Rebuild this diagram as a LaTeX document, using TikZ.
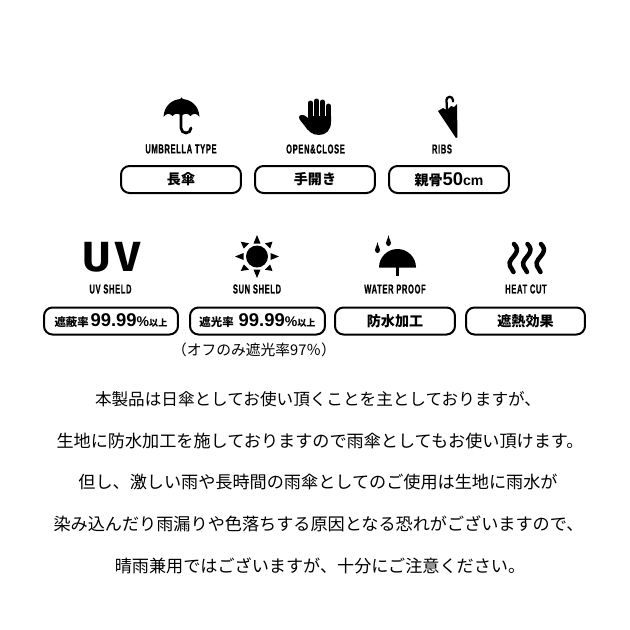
\documentclass[tikz,border=0pt]{standalone}
\usepackage{fontspec}
\setmainfont{Noto Sans CJK JP}
\newfontfamily\capfont[FakeStretch=0.58,FakeBold=0.6,LetterSpace=5]{Liberation Sans Bold}
\newfontfamily\uvfont[LetterSpace=9,FakeStretch=1.04,BoldFont={Fira Sans Bold}]{Fira Sans}
\newfontfamily\numfont{Liberation Sans Bold}
\tikzset{
	specbox/.style={draw, line width=0.4mm, rounded corners=1.7mm, minimum height=0.54cm, inner sep=0pt, font=\bfseries\fontsize{8pt}{10pt}\selectfont},
	caplabel/.style={inner sep=0pt, font=\capfont\fontsize{7.4pt}{9pt}\selectfont},
	bodyline/.style={inner sep=0pt, font=\fontsize{9.75pt}{11pt}\selectfont},
	heatwave/.style={line width=0.9mm, line cap=round},
	finger/.style={line width=1mm, line cap=round},
	icon/.style={fill=black, draw=none}
}
\begin{document}
\begin{tikzpicture}[x=0.02cm, y=-0.02cm]
	%%%%% FRAME %%%%%
	\useasboundingbox (0, 0) rectangle (630, 630);
	
	%%%%% TOP ROW %%%%%
	\fill[icon] (163.5, 117) .. controls (164, 106) and (172, 99) .. (181.5, 99) .. controls (191, 99) and (199, 106) .. (199.5, 117) .. controls (197, 113) and (193, 113) .. (190.5, 116) .. controls (188, 113) and (184, 113) .. (181.5, 116) .. controls (179, 113) and (175, 113) .. (172.5, 116) .. controls (170, 113) and (166, 113) .. (163.5, 117) -- cycle;
	\fill[icon] (181.5, 98.5) circle (1.2);
	\draw[line width=0.55mm, line cap=round] (181, 114) -- (181, 128) arc (180:0:5);
	
	\draw[finger] (310.5, 103) -- (310.5, 120);
	\draw[finger] (316.5, 101) -- (316.5, 120);
	\draw[finger] (322.5, 102) -- (322.5, 120);
	\draw[finger] (328.5, 106) -- (328.5, 120);
	\fill[icon] (308, 116) -- (331, 116) -- (331, 122) .. controls (331, 130) and (326, 135) .. (319, 135) .. controls (312, 135) and (308, 131) .. (304, 125) .. controls (302, 122) and (299, 120) .. (299, 117) .. controls (300, 114) and (304, 114) .. (308, 118) -- cycle;
	
	\fill[icon] (438, 111) -- (443, 108) -- (447, 110) -- (451, 106) -- (454, 107) -- (457, 104) -- (457.5, 137) -- (456, 138) -- cycle;
	\draw[line width=0.45mm, line cap=round] (447, 110) -- (446.5, 100) arc (180:360:3.2) -- (452.9, 101.5);
	
	\node[caplabel] (umbrellatype) at (181, 149) {UMBRELLA TYPE};
	\node[caplabel] (openclose) at (315.5, 149) {OPEN\&CLOSE};
	\node[caplabel] (ribs) at (442, 149) {RIBS};
	
	\node[specbox, minimum width=2.4cm] (umbrellabox) at (181, 179.5) {長傘};
	\node[specbox, minimum width=2.4cm] (openbox) at (315, 179.5) {手開き};
	\node[specbox, minimum width=2.4cm] (ribsbox) at (449, 179.5) {親骨{\numfont\fontsize{10.5pt}{10pt}\selectfont 50}{\numfont\fontsize{8pt}{10pt}\selectfont cm}};
	
	%%%%% SECOND ROW %%%%%
	\node[inner sep=0pt, font=\uvfont\bfseries\fontsize{24pt}{26pt}\selectfont] (uvmark) at (111.5, 257.5) {UV};
	
	\fill[icon] (257, 256.5) circle (11);
	\fill[icon] (253.5, 243.5) -- (257, 235) -- (260.5, 243.5) -- cycle;
	\fill[icon] (253.5, 269.5) -- (257, 278) -- (260.5, 269.5) -- cycle;
	\fill[icon] (243.5, 253) -- (235, 256.5) -- (243.5, 260) -- cycle;
	\fill[icon] (270.5, 253) -- (279, 256.5) -- (270.5, 260) -- cycle;
	\fill[icon] (243.8, 248.5) -- (240.7, 241.7) -- (249, 243.3) -- cycle;
	\fill[icon] (265, 243.3) -- (272.5, 241.7) -- (270.2, 248.5) -- cycle;
	\fill[icon] (243.8, 264.5) -- (240.7, 271) -- (249, 269.7) -- cycle;
	\fill[icon] (265, 269.7) -- (272.5, 271) -- (270.2, 264.5) -- cycle;
	
	\fill[icon] (379, 267.5) arc (180:360:18.5) -- cycle;
	\draw[line width=0.55mm] (397.5, 267) -- (397.5, 276);
	\fill[icon] (377.5, 242) .. controls (377, 246) and (375, 248) .. (375, 250) .. controls (375, 254) and (380, 254) .. (380, 250) .. controls (380, 248) and (378, 246) .. (377.5, 242) -- cycle;
	\fill[icon] (388.5, 235) .. controls (388, 239) and (386, 241) .. (386, 243) .. controls (386, 247) and (391, 247) .. (391, 243) .. controls (391, 241) and (389, 239) .. (388.5, 235) -- cycle;
	
	\draw[heatwave] (514, 244) .. controls (517, 247) and (518, 250) .. (515.5, 254) .. controls (513, 258) and (508, 261) .. (510, 266) .. controls (511, 268) and (512.5, 270) .. (513.5, 272);
	\draw[heatwave] (527.5, 244) .. controls (530.5, 247) and (531.5, 250) .. (529, 254) .. controls (526.5, 258) and (521.5, 261) .. (523.5, 266) .. controls (524.5, 268) and (526, 270) .. (527, 272);
	\draw[heatwave] (541, 244) .. controls (544, 247) and (545, 250) .. (542.5, 254) .. controls (540, 258) and (535, 261) .. (537, 266) .. controls (538, 268) and (539.5, 270) .. (540.5, 272);
	
	\node[caplabel] (uvshield) at (110.5, 289) {UV SHELD};
	\node[caplabel] (sunshield) at (257, 289) {SUN SHELD};
	\node[caplabel] (waterproof) at (395, 289) {WATER PROOF};
	\node[caplabel] (heatcut) at (526, 289) {HEAT CUT};
	
	\node[specbox, minimum width=2.68cm] (uvbox) at (111, 321) {\fontsize{6.5pt}{10pt}\selectfont 遮蔽率{\numfont\fontsize{10.5pt}{10pt}\selectfont\kern1pt 99.99}{\numfont\fontsize{8pt}{10pt}\selectfont\%}{\fontsize{5.2pt}{10pt}\selectfont 以上}};
	\node[specbox, minimum width=2.7cm] (sunbox) at (257.5, 321) {\fontsize{6.5pt}{10pt}\selectfont 遮光率{\numfont\fontsize{10.5pt}{10pt}\selectfont\kern2.8pt 99.99}{\numfont\fontsize{8pt}{10pt}\selectfont\%}{\fontsize{5.2pt}{10pt}\selectfont 以上}};
	\node[specbox, minimum width=2.4cm] (waterbox) at (395, 321) {防水加工};
	\node[specbox, minimum width=2.38cm] (heatbox) at (525.5, 321) {遮熱効果};
	
	\node[inner sep=0pt, font=\fontsize{8.4pt}{10pt}\selectfont] (offnote) at (254, 350) {（オフのみ遮光率97％）};
	
	%%%%% NOTICE %%%%%
	\node[bodyline, font=\fontsize{9.45pt}{11pt}\selectfont] (lineone) at (318, 399) {本製品は日傘としてお使い頂くことを主としておりますが、};
	\node[bodyline] (linetwo) at (320, 441) {生地に防水加工を施しておりますので雨傘としてもお使い頂けます。};
	\node[bodyline] (linethree) at (318, 482) {但し、激しい雨や長時間の雨傘としてのご使用は生地に雨水が};
	\node[bodyline] (linefour) at (318.5, 524) {染み込んだり雨漏りや色落ちする原因となる恐れがございますので、};
	\node[bodyline] (linefive) at (320, 566) {晴雨兼用ではございますが、十分にご注意ください。};
\end{tikzpicture}
\end{document}
